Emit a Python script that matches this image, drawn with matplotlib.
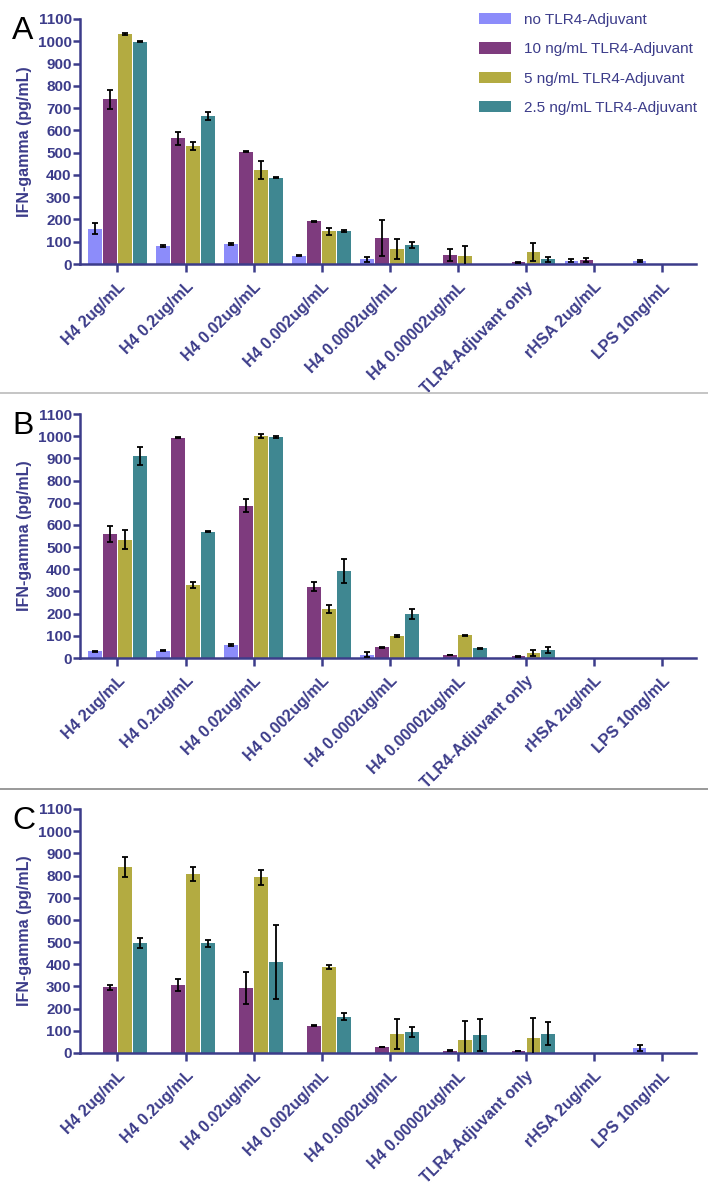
import numpy as np
import matplotlib
matplotlib.use("Agg")
import matplotlib.pyplot as plt
from matplotlib.lines import Line2D
from matplotlib.patches import Patch

plt.rcParams['font.family'] = ['Liberation Sans', 'DejaVu Sans']

categories = ["H4 2ug/mL", "H4 0.2ug/mL", "H4 0.02ug/mL", "H4 0.002ug/mL",
              "H4 0.0002ug/mL", "H4 0.00002ug/mL", "TLR4-Adjuvant only",
              "rHSA 2ug/mL", "LPS 10ng/mL"]
series = ["no TLR4-Adjuvant", "10 ng/mL TLR4-Adjuvant",
          "5 ng/mL TLR4-Adjuvant", "2.5 ng/mL TLR4-Adjuvant"]
colors = ["#8c8cfa", "#7e3b7e", "#b3ab41", "#3f8791"]

# panel A
a_none = [159, 81, 91, 37, 21, 0, 0, 15, 15]
a_none_err = [24, 4, 5, 3, 12, 0, 0, 7, 5]
a_10 = [739, 564, 505, 192, 117, 39, 8, 18, 0]
a_10_err = [42, 30, 2, 2, 81, 27, 2, 7, 0]
a_5 = [1033, 530, 421, 146, 69, 36, 55, 0, 0]
a_5_err = [4, 17, 40, 14, 45, 46, 41, 0, 0]
a_25 = [998, 663, 388, 148, 85, 0, 21, 0, 0]
a_25_err = [2, 18, 4, 3, 12, 0, 10, 0, 0]

# panel B
b_none = [30, 33, 58, 0, 15, 0, 0, 0, 0]
b_none_err = [2, 3, 4, 0, 12, 0, 0, 0, 0]
b_10 = [560, 993, 686, 321, 48, 13, 7, 0, 0]
b_10_err = [37, 3, 30, 20, 2, 1, 1, 0, 0]
b_5 = [533, 329, 1000, 222, 98, 102, 22, 0, 0]
b_5_err = [42, 15, 8, 18, 5, 2, 13, 0, 0]
b_25 = [909, 570, 997, 393, 200, 43, 36, 0, 0]
b_25_err = [41, 2, 5, 53, 22, 2, 12, 0, 0]

# panel C
c_none = [0, 0, 0, 0, 0, 0, 0, 0, 23]
c_none_err = [0, 0, 0, 0, 0, 0, 0, 0, 12]
c_10 = [296, 307, 292, 123, 26, 11, 8, 0, 0]
c_10_err = [11, 27, 72, 1, 1, 1, 1, 0, 0]
c_5 = [837, 807, 792, 388, 86, 60, 68, 0, 0]
c_5_err = [45, 31, 34, 8, 67, 84, 91, 0, 0]
c_25 = [497, 494, 410, 164, 96, 81, 87, 0, 0]
c_25_err = [23, 17, 168, 15, 23, 72, 51, 0, 0]

panels = [
    ("A", [a_none, a_10, a_5, a_25], [a_none_err, a_10_err, a_5_err, a_25_err]),
    ("B", [b_none, b_10, b_5, b_25], [b_none_err, b_10_err, b_5_err, b_25_err]),
    ("C", [c_none, c_10, c_5, c_25], [c_none_err, c_10_err, c_5_err, c_25_err]),
]

navy = "#3c3c8a"
fig = plt.figure(figsize=(7.08, 11.85), dpi=100)
W, H = 708, 1185
# pixel boxes (left, top, right, bottom) of each plot area
boxes = [(80, 19, 696, 264), (80, 414, 696, 658), (80, 809, 696, 1053)]

x = np.arange(len(categories))
step = 0.22
width = 0.2

for (letter, vals, errs), (l, t, r, b) in zip(panels, boxes):
    ax = fig.add_axes([l / W, 1 - b / H, (r - l) / W, (b - t) / H])
    for k in range(4):
        v = np.array(vals[k], dtype=float)
        e = np.array(errs[k], dtype=float)
        pos = x + (k - 1.5) * step
        mask = v > 0
        ax.bar(pos[mask], v[mask], width, color=colors[k], zorder=2,
               label=series[k])
        ax.errorbar(pos[mask], v[mask], yerr=e[mask], fmt="none",
                    ecolor="black", elinewidth=1.3, capsize=2.5,
                    capthick=1.3, zorder=3)
    ax.set_xlim(-0.55, 8.5)
    ax.set_ylim(0, 1100)
    ax.set_yticks(np.arange(0, 1101, 100))
    ax.set_xticks(x)
    ax.set_xticklabels(categories, rotation=45, ha="right",
                       rotation_mode="anchor", fontsize=11.5,
                       fontweight="bold", color=navy)
    for lab in ax.get_yticklabels():
        lab.set_fontweight("bold")
        lab.set_color(navy)
        lab.set_fontsize(11)
    ax.tick_params(axis="both", colors=navy, width=1.8, length=5,
                   direction="out")
    ax.tick_params(axis="x", length=6, pad=5)
    ax.tick_params(axis="y", pad=1)
    for s in ["top", "right"]:
        ax.spines[s].set_visible(False)
    for s in ["left", "bottom"]:
        ax.spines[s].set_color(navy)
        ax.spines[s].set_linewidth(1.8)
    ax.set_ylabel("IFN-gamma (pg/mL)", fontsize=11.5, fontweight="bold",
                  color=navy, labelpad=4)
    fig.text(12 / W, 1 - (t + 12) / H, letter, fontsize=23, color="black",
             va="center", ha="left")
    if letter == "A":
        handles = [Patch(facecolor=c, edgecolor="none") for c in colors]
        leg = ax.legend(handles, series, loc="upper right",
                        bbox_to_anchor=(1.011, 1.049), frameon=False,
                        borderaxespad=0, fontsize=11, handlelength=2.1,
                        handleheight=0.75, labelspacing=1.0,
                        handletextpad=0.85)
        for txt in leg.get_texts():
            txt.set_color(navy)

# separators between panels
for yy, col in [(393, "#bbbbbb"), (789, "#888888")]:
    fig.add_artist(Line2D([0, 1], [1 - yy / H, 1 - yy / H], color=col,
                          linewidth=1.2))

fig.savefig("out.png", dpi=100)
